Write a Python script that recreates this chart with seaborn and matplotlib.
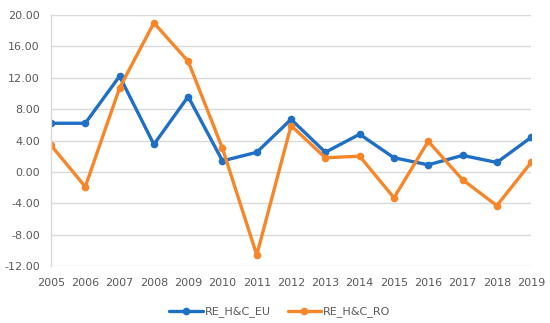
import matplotlib
matplotlib.use("Agg")
import matplotlib.pyplot as plt
import seaborn as sns
import pandas as pd

years = list(range(2005, 2020))
eu_values = [6.2, 6.2, 12.2, 3.5, 9.6, 1.4, 2.5, 6.7, 2.5, 4.8, 1.8, 0.9, 2.1, 1.2, 4.4]
ro_values = [3.4, -1.9, 10.7, 19.0, 14.1, 3.0, -10.6, 5.9, 1.8, 2.0, -3.3, 3.9, -1.0, -4.3, 1.2]
series_names = ["RE_H&C_EU", "RE_H&C_RO"]
y_ticks = [-12, -8, -4, 0, 4, 8, 12, 16, 20]

df = pd.DataFrame({
    "year": years * 2,
    "value": eu_values + ro_values,
    "series": [series_names[0]] * len(years) + [series_names[1]] * len(years),
})

sns.set_style("white")
plt.rcParams["font.family"] = ["DejaVu Sans"]

fig = plt.figure(figsize=(5.5, 3.23), dpi=100)
ax = fig.add_axes([0.0927, 0.1765, 0.873, 0.777])

palette = {series_names[0]: "#1f6fc4", series_names[1]: "#f7862a"}
sns.lineplot(data=df, x="year", y="value", hue="series", palette=palette,
             marker="o", markersize=5.5, markeredgewidth=0, linewidth=2.4,
             ax=ax, legend=True)

ax.set_xlim(2005, 2019)
ax.set_ylim(-12, 20)
ax.set_yticks(y_ticks)
ax.set_yticklabels([f"{v:.2f}" for v in y_ticks])
ax.set_xticks(years)
ax.set_xticklabels([str(y) for y in years])
ax.set_xlabel("")
ax.set_ylabel("")
ax.grid(axis="y", color="#d9d9d9", linewidth=1)
ax.set_axisbelow(True)
for s in ["top", "right", "bottom"]:
    ax.spines[s].set_visible(False)
ax.spines["left"].set_color("#d9d9d9")
ax.spines["left"].set_linewidth(1)
ax.tick_params(axis="x", length=0, labelsize=8, labelcolor="#595959", pad=9)
ax.tick_params(axis="y", length=0, labelsize=8, labelcolor="#595959", pad=8)

handles, labels = ax.get_legend_handles_labels()
ax.legend(handles, labels, loc="center", bbox_to_anchor=(0.477, -0.183),
          ncol=2, frameon=False, fontsize=8, labelcolor="#595959",
          handlelength=3, columnspacing=1.5, handletextpad=0.2)

fig.savefig("out.png", dpi=100)
